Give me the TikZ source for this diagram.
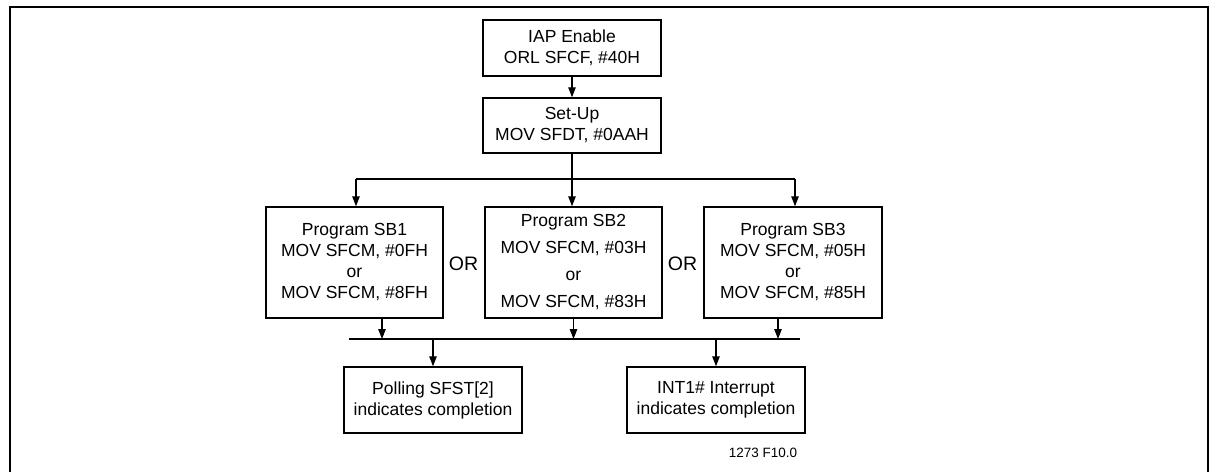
\documentclass[tikz,border=0pt]{standalone}
\usepackage{fontspec}
\setmainfont{Liberation Sans}
\usetikzlibrary{arrows.meta}
\begin{document}
\begin{tikzpicture}[x=1pt,y=-1pt,
  box/.style={draw=black,line width=1.5pt,align=center,inner sep=0pt,
    font=\fontsize{17.5}{21}\selectfont},
  arr/.style={line width=1.2pt,-{Triangle[length=10pt,width=7.5pt]}},
  ln/.style={line width=1.2pt},
  orlabel/.style={font=\fontsize{19.5}{23}\selectfont,inner sep=0pt},
  frame/.style={line width=1.6pt}]
\useasboundingbox (0,0) rectangle (1215,472);
% frame
\draw[frame] (10,472) -- (10,7) -- (1208,7) -- (1208,472);
% nodes
\node[box,minimum width=178pt,minimum height=56pt] (iap) at (572,48) {IAP Enable\\ORL SFCF, \#40H};
\node[box,minimum width=178pt,minimum height=55pt] (setup) at (572,125.5) {Set-Up\\MOV SFDT, \#0AAH};
\node[box,minimum width=177pt,minimum height=111pt] (sb1) at (354.5,262.5) {Program SB1\\MOV SFCM, \#0FH\\or\\MOV SFCM, \#8FH};
\node[box,minimum width=177pt,minimum height=111pt] (sb2) at (573.5,262.5) {Program SB2\\[6pt]MOV SFCM, \#03H\\[6pt]or\\[6pt]MOV SFCM, \#83H};
\node[box,minimum width=178pt,minimum height=111pt] (sb3) at (793,262.5) {Program SB3\\MOV SFCM, \#05H\\or\\MOV SFCM, \#85H};
\node[box,minimum width=178pt,minimum height=66pt] (poll) at (433,400) {Polling SFST[2]\\indicates completion};
\node[box,minimum width=178pt,minimum height=66pt] (int) at (716,400) {INT1\# Interrupt\\indicates completion};
\node[orlabel] (or1) at (463.5,264) {OR};
\node[orlabel] (or2) at (682.5,264) {OR};
\node[font=\fontsize{13.5}{15}\selectfont,inner sep=0pt] (fig) at (763,453) {1273 F10.0};
% connectors
\coordinate (split) at (572,179);
\coordinate (m) at (573,339);
\coordinate (ml) at (349,339);
\coordinate (mr) at (800,339);
\draw[arr] (iap) -- (setup);
\draw[ln] (setup.south) -- (split);
\draw[ln] ([xshift=1.5pt]sb1.north |- split) -- ([xshift=2pt]sb3.north |- split);
\draw[arr] ([xshift=1.5pt]sb1.north |- split) -- ([xshift=1.5pt]sb1.north);
\draw[arr] (split) -- (sb2.north -| split);
\draw[arr] ([xshift=2pt]sb3.north |- split) -- ([xshift=2pt]sb3.north);
\draw[ln] (ml) -- (mr);
\draw[arr] ([xshift=27.5pt]sb1.south) -- ([xshift=27.5pt]sb1.south |- m);
\draw[arr] (sb2.south) -- (sb2.south |- m);
\draw[arr] ([xshift=-15pt]sb3.south) -- ([xshift=-15pt]sb3.south |- m);
\draw[arr] (poll.north |- m) -- (poll.north);
\draw[arr] (int.north |- m) -- (int.north);
\end{tikzpicture}
\end{document}
